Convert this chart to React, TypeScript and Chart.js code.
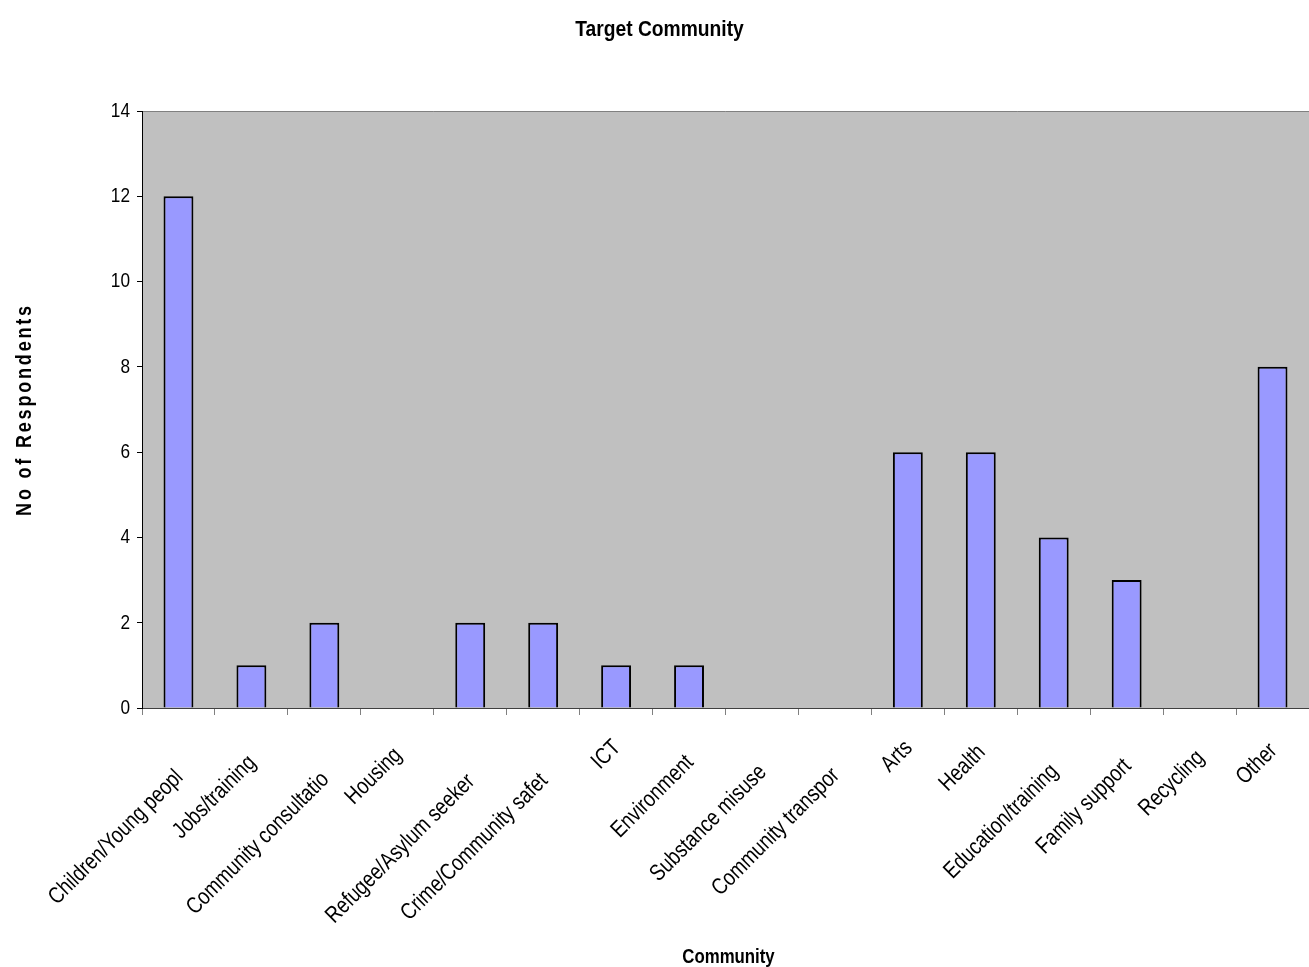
import React, { useEffect, useRef } from "react";
import { Chart, registerables } from "chart.js";

Chart.register(...registerables);

// Categories as printed under the axis (the long ones are cut short on the chart)
const categories = [
  "Children/Young peopl",
  "Jobs/training",
  "Community consultatio",
  "Housing",
  "Refugee/Asylum seeker",
  "Crime/Community safet",
  "ICT",
  "Environment",
  "Substance misuse",
  "Community transpor",
  "Arts",
  "Health",
  "Education/training",
  "Family support",
  "Recycling",
  "Other",
];

const respondents = [12, 1, 2, 0, 2, 2, 1, 1, 0, 0, 6, 6, 4, 3, 0, 8];

const yTicks = [0, 2, 4, 6, 8, 10, 12, 14];

const chartTitle = "Target Community";
const xTitle = "Community";
const yTitle = "No of Respondents";

const SANS = "'Liberation Sans', Arial, sans-serif";

// Draws text squeezed horizontally (narrow face look), optionally rotated
function drawText(
  ctx: CanvasRenderingContext2D,
  text: string,
  x: number,
  y: number,
  opts: {
    font: string;
    squeeze: number;
    align: CanvasTextAlign;
    baseline: CanvasTextBaseline;
    rotation?: number;
    spacing?: string;
  }
) {
  ctx.save();
  ctx.translate(x, y);
  if (opts.rotation) ctx.rotate(opts.rotation);
  ctx.scale(opts.squeeze, 1);
  ctx.font = opts.font;
  (ctx as any).letterSpacing = opts.spacing || "0px";
  ctx.fillStyle = "#000";
  ctx.textAlign = opts.align;
  ctx.textBaseline = opts.baseline;
  ctx.fillText(text, 0, 0);
  ctx.restore();
}

// Grey plot background, top border, and all chart text
const plotDecor = {
  id: "plotDecor",
  beforeDraw(chart: any) {
    const { ctx, chartArea } = chart;
    const { left, top, right, bottom } = chartArea;
    ctx.save();
    ctx.fillStyle = "#C0C0C0";
    ctx.fillRect(left, top, right - left, bottom - top);
    ctx.strokeStyle = "#808080";
    ctx.lineWidth = 1;
    ctx.beginPath();
    ctx.moveTo(left, top + 0.5);
    ctx.lineTo(right, top + 0.5);
    ctx.stroke();
    ctx.restore();
  },
  afterDraw(chart: any) {
    const { ctx, chartArea, width } = chart;
    const xs = chart.scales.x;
    const ys = chart.scales.y;

    // chart title
    drawText(ctx, chartTitle, width / 2 + 5, 36, {
      font: `bold 22px ${SANS}`,
      squeeze: 0.875,
      align: "center",
      baseline: "alphabetic",
    });

    // x axis title
    drawText(ctx, xTitle, (chartArea.left + chartArea.right) / 2 + 3, 963, {
      font: `bold 21px ${SANS}`,
      squeeze: 0.8,
      align: "center",
      baseline: "alphabetic",
    });

    // y axis title, letter-spaced
    drawText(ctx, yTitle, 30.5, (chartArea.top + chartArea.bottom) / 2, {
      font: `bold 22px ${SANS}`,
      squeeze: 0.82,
      align: "center",
      baseline: "alphabetic",
      rotation: -Math.PI / 2,
      spacing: "3.4px",
    });

    // y tick labels
    yTicks.forEach((v) => {
      drawText(ctx, String(v), chartArea.left - 12, ys.getPixelForValue(v), {
        font: `21px ${SANS}`,
        squeeze: 0.82,
        align: "right",
        baseline: "middle",
      });
    });

    // x category labels at 45 degrees; longer labels sit a little lower
    const labelFont = `23px ${SANS}`;
    const squeeze = 0.82;
    ctx.save();
    ctx.font = labelFont;
    const lengths = categories.map((c) => ctx.measureText(c).width * squeeze);
    ctx.restore();
    categories.forEach((c, i) => {
      const px = xs.getPixelForValue(i);
      drawText(ctx, c, px + 1, chartArea.bottom + 30 + 0.2 * lengths[i], {
        font: labelFont,
        squeeze,
        align: "right",
        baseline: "middle",
        rotation: -Math.PI / 4,
      });
    });
  },
};

export default function App() {
  const canvasRef = useRef<HTMLCanvasElement | null>(null);

  useEffect(() => {
    document.body.style.margin = "0";
    document.body.style.overflow = "hidden";
    const canvas = canvasRef.current;
    if (!canvas) return;

    const chart = new Chart(canvas, {
      type: "bar",
      data: {
        labels: categories,
        datasets: [
          {
            data: respondents,
            backgroundColor: "#9999FF",
            borderColor: "#000000",
            borderWidth: 2,
            categoryPercentage: 1,
            barPercentage: 0.41,
          },
        ],
      },
      options: {
        animation: false,
        responsive: true,
        maintainAspectRatio: false,
        layout: { padding: { top: 111, left: 0, right: 0, bottom: 0 } },
        plugins: {
          legend: { display: false },
          tooltip: { enabled: false },
          title: { display: false },
        },
        scales: {
          x: {
            type: "category",
            offset: true,
            grid: {
              offset: true,
              drawOnChartArea: false,
              drawTicks: true,
              tickLength: 7,
              color: "#808080",
            },
            border: { display: true, color: "#404040", width: 1 },
            ticks: { display: false, autoSkip: false },
            afterFit(scale: any) {
              scale.height = 259;
              scale.paddingLeft = 0;
              scale.paddingRight = 0;
            },
          },
          y: {
            type: "linear",
            min: 0,
            max: 14,
            afterBuildTicks(scale: any) {
              scale.ticks = yTicks.map((v) => ({ value: v }));
            },
            grid: {
              drawOnChartArea: false,
              drawTicks: true,
              tickLength: 5,
              color: "#000",
            },
            border: { display: true, color: "#000", width: 1 },
            ticks: { display: false },
            afterFit(scale: any) {
              scale.width = 142;
              scale.paddingTop = 0;
              scale.paddingBottom = 0;
            },
          },
        },
      },
      plugins: [plotDecor],
    });

    return () => chart.destroy();
  }, []);

  return (
    <div style={{ width: 1309, height: 967, position: "relative", background: "#fff" }}>
      <canvas ref={canvasRef} />
    </div>
  );
}
